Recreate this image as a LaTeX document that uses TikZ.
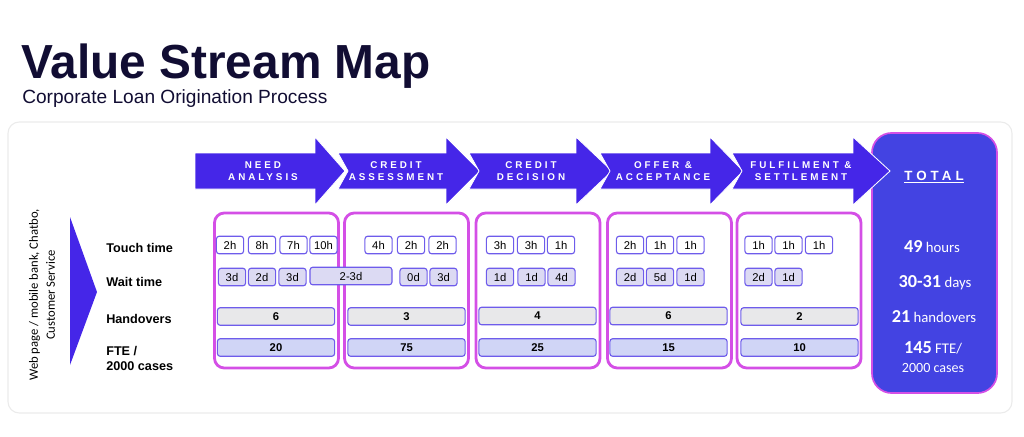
\documentclass[tikz,border=0pt]{standalone}
\usepackage{fontspec}
\setmainfont{Liberation Sans}
\newfontfamily\calfont{Carlito}
\newfontfamily\spacedfont{Liberation Sans}[LetterSpace=30]
\definecolor{arrowblue}{HTML}{4526E8}
\definecolor{totalblue}{HTML}{4343E2}
\definecolor{stagepink}{HTML}{D44FE6}
\definecolor{boxline}{HTML}{6E5CEB}
\definecolor{waitfill}{HTML}{DCDAF3}
\definecolor{hofill}{HTML}{E8E8EA}
\definecolor{ftefill}{HTML}{D0D5F6}
\definecolor{titleink}{HTML}{110D33}
\tikzset{
  stage/.style={draw=stagepink, line width=2pt, rounded corners=7pt, minimum width=3.1cm, minimum height=3.875cm},
  tbox/.style={draw=boxline, line width=0.8pt, fill=white, rounded corners=2pt, minimum width=0.68cm, minimum height=0.44cm, inner sep=0pt, font=\fontsize{8}{9}\selectfont},
  wbox/.style={tbox, fill=waitfill},
  hbar/.style={tbox, fill=hofill, minimum width=2.93cm, font=\bfseries\fontsize{8}{9}\selectfont},
  fbar/.style={hbar, fill=ftefill},
  rowlabel/.style={anchor=west, inner sep=0pt, align=left, font=\bfseries\fontsize{9}{11}\selectfont},
  steptext/.style={text=white, align=center, font=\spacedfont\bfseries\fontsize{7}{8.5}\selectfont},
  chevron/.style={fill=arrowblue, draw=white, line width=0.6pt},
  totaltext/.style={text=white, font=\calfont\fontsize{10.5}{12}\selectfont},
}

\begin{document}
\begin{tikzpicture}[x=0.025cm, y=-0.025cm]
\useasboundingbox (0,0) rectangle (1024,436);
% frame and heading
\draw[black!8, line width=0.8pt, rounded corners=8pt] (8,122) rectangle (1012,413);
\node[anchor=base west, inner sep=0pt, text=titleink, font=\bfseries\fontsize{34}{40}\selectfont] (title) at (21,78) {Value Stream Map};
\node[anchor=base west, inner sep=0pt, text=titleink, font=\fontsize{13.6}{16}\selectfont] (sub) at (22,103) {Corporate Loan Origination Process};

% total column
\node[fill=totalblue, draw=stagepink, line width=1.2pt, rounded corners=14pt, minimum width=3.125cm, minimum height=6.5cm] (TOT) at (934.5,263) {};

% process steps
\path[chevron] (195,153) -- (315,153) -- (315,137) -- (345,171) -- (315,205) -- (315,189) -- (195,189) -- cycle;
\path[chevron] (338,153) -- (446,153) -- (446,137) -- (480,171) -- (446,205) -- (446,189) -- (338,189) -- (348,171) -- cycle;
\path[chevron] (469,153) -- (576,153) -- (576,137) -- (612,171) -- (576,205) -- (576,189) -- (469,189) -- (479,171) -- cycle;
\path[chevron] (600,153) -- (710,153) -- (710,137) -- (743,171) -- (710,205) -- (710,189) -- (600,189) -- (610,171) -- cycle;
\path[chevron] (732,153) -- (853,153) -- (853,137) -- (890,171) -- (853,205) -- (853,189) -- (732,189) -- (742,171) -- cycle;
\node[steptext] (NA) at (263,171) {NEED\\ANALYSIS};
\node[steptext] (CA) at (396,171) {CREDIT\\ASSESSMENT};
\node[steptext] (CD) at (531,171) {CREDIT\\DECISION};
\node[steptext] (OA) at (663,171) {OFFER \&\\ACCEPTANCE};
\node[steptext] (FS) at (801,171) {FULFILMENT \&\\SETTLEMENT};

% channels and row labels
\fill[arrowblue] (70,217) -- (97,292) -- (70,365) -- cycle;
\node[rotate=90, align=center, font=\calfont\fontsize{9}{12}\selectfont] (chan) at (42,295) {Web page / mobile bank, Chatbo,\\Customer Service};
\node[rowlabel] (touch) at (106,248) {Touch time};
\node[rowlabel] (wait) at (106,282) {Wait time};
\node[rowlabel] (hand) at (106,319) {Handovers};
\node[rowlabel] (fte) at (106,358.5) {FTE /\\2000 cases};

% stages
\node[stage] (S1) at (276.5,290.5) {};
\node[stage] (S2) at (406.5,290.5) {};
\node[stage] (S3) at (538,290.5) {};
\node[stage] (S4) at (669.5,290.5) {};
\node[stage] (S5) at (799,290.5) {};

% touch time
\node[tbox] (T1a) at (230,245) {2h};
\node[tbox] (T1b) at (262,245) {8h};
\node[tbox] (T1c) at (293.5,245) {7h};
\node[tbox] (T1d) at (323.5,245) {10h};
\node[tbox] (T2a) at (378.5,245) {4h};
\node[tbox] (T2b) at (411,245) {2h};
\node[tbox] (T2c) at (442.5,245) {2h};
\node[tbox] (T3a) at (500,245) {3h};
\node[tbox] (T3b) at (531,245) {3h};
\node[tbox] (T3c) at (561,245) {1h};
\node[tbox] (T4a) at (630,245) {2h};
\node[tbox] (T4b) at (660,245) {1h};
\node[tbox] (T4c) at (690.5,245) {1h};
\node[tbox] (T5a) at (758.5,245) {1h};
\node[tbox] (T5b) at (788.5,245) {1h};
\node[tbox] (T5c) at (819,245) {1h};

% wait time
\node[wbox] (W1a) at (232,277) {3d};
\node[wbox] (W1b) at (262,277) {2d};
\node[wbox] (W1c) at (292.5,277) {3d};
\node[wbox, minimum width=2.05cm] (W1d) at (351,276) {2-3d};
\node[wbox] (W2a) at (413.5,277) {0d};
\node[wbox] (W2b) at (443.5,277) {3d};
\node[wbox] (W3a) at (500,277) {1d};
\node[wbox] (W3b) at (531.5,277) {1d};
\node[wbox] (W3c) at (561.5,277) {4d};
\node[wbox] (W4a) at (630,277) {2d};
\node[wbox] (W4b) at (660,277) {5d};
\node[wbox] (W4c) at (690.5,277) {1d};
\node[wbox] (W5a) at (758.5,277) {2d};
\node[wbox] (W5b) at (788.5,277) {1d};

% handovers and FTE
\node[hbar] (H1) at (276,316.5) {6};
\node[hbar] (H2) at (406.5,316.5) {3};
\node[hbar] (H3) at (537.5,316) {4};
\node[hbar] (H4) at (668.5,316) {6};
\node[hbar] (H5) at (799.5,316.5) {2};
\node[fbar] (F1) at (276,347.5) {20};
\node[fbar] (F2) at (406.5,347.5) {75};
\node[fbar] (F3) at (537.5,347.5) {25};
\node[fbar] (F4) at (668.5,347.5) {15};
\node[fbar] (F5) at (799.5,347.5) {10};

% totals
\node[anchor=base, inner sep=0pt, text=white, font=\spacedfont\bfseries\fontsize{9.5}{11}\selectfont] (ttl) at (934,180) {TOTAL};
\draw[white, line width=0.8pt] ([yshift=-1.8pt]ttl.base west) -- ([yshift=-1.8pt]ttl.base east);
\node[totaltext] (hrs) at (932,247) {{\bfseries\fontsize{13}{15}\selectfont 49} hours};
\node[totaltext] (days) at (935,283) {{\bfseries\fontsize{13}{15}\selectfont 30-31} days};
\node[totaltext] (hos) at (934,317) {{\bfseries\fontsize{13}{15}\selectfont 21} handovers};
\node[totaltext] (ftes) at (933,348) {{\bfseries\fontsize{13}{15}\selectfont 145} FTE/};
\node[totaltext, font=\calfont\fontsize{10}{12}\selectfont] (cases) at (933,368) {2000 cases};
\end{tikzpicture}
\end{document}
